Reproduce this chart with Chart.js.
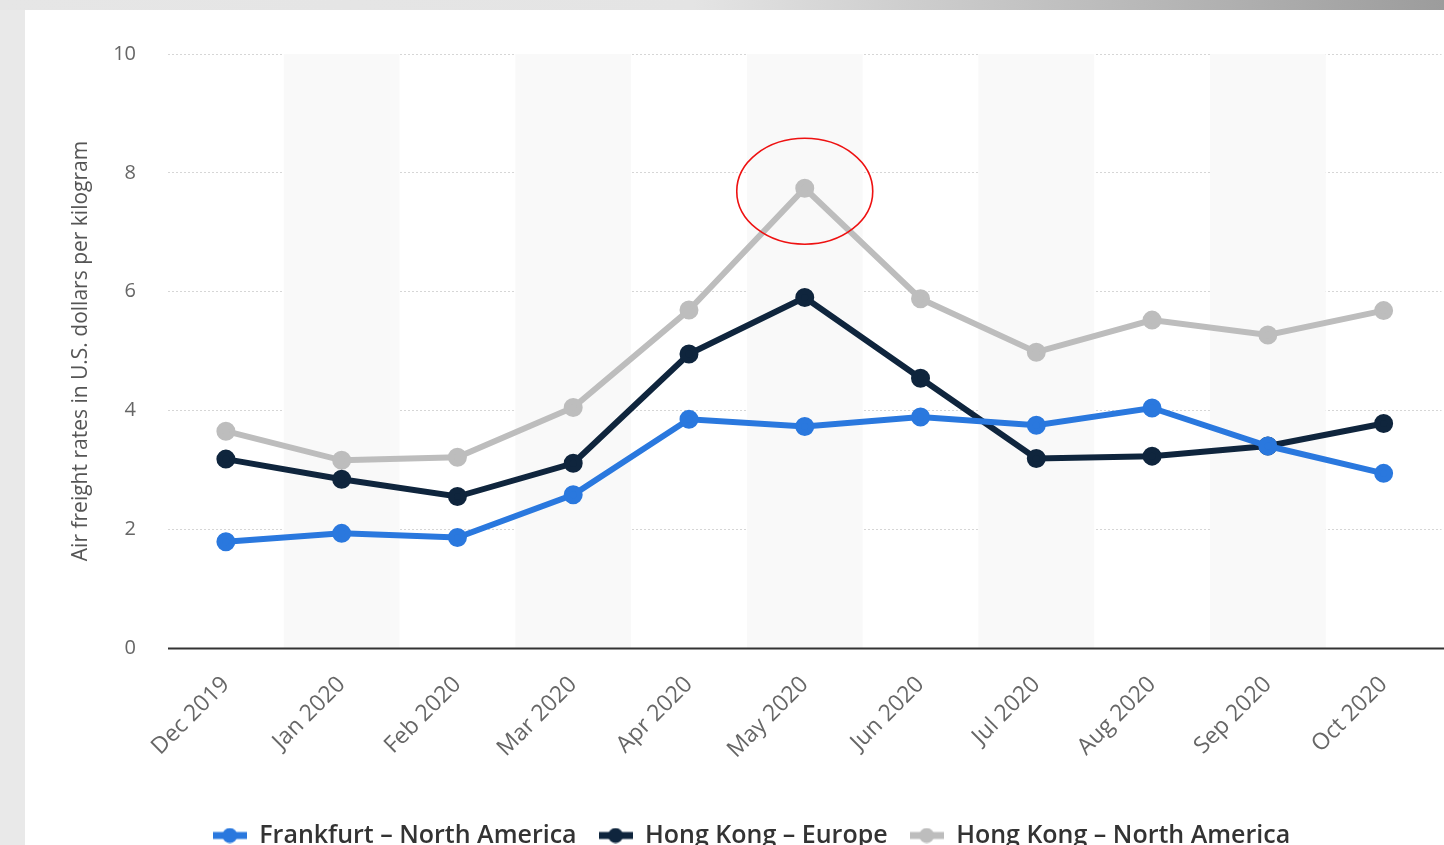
<!DOCTYPE html>
<html lang="en">
<head>
<meta charset="UTF-8">
<title>Air freight rates</title>
<script src="https://cdn.jsdelivr.net/npm/chart.js"></script>
<style>
    html, body { margin: 0; padding: 0; overflow: hidden; }
    body { width: 1444px; height: 845px; background: #e9e9e9; position: relative; }
    .topbar { position: absolute; left: 0; top: 0; width: 1444px; height: 10px;
              background: linear-gradient(to right, #e6e6e6 0%, #e4e4e4 48%, #cfcfcf 62%, #9c9c9c 100%); }
    .panel { position: absolute; left: 25px; top: 10px; width: 1429px; height: 870px; background: #fff; }
    #grafico { display: block; }
</style>
</head>
<body>
<div class="topbar"></div>
<div class="panel">
    <canvas id="grafico" width="1429" height="860" style="width:1429px;height:860px;"></canvas>
</div>
<script>
// months on the x axis
const meses = ['Dec 2019', 'Jan 2020', 'Feb 2020', 'Mar 2020', 'Apr 2020', 'May 2020',
               'Jun 2020', 'Jul 2020', 'Aug 2020', 'Sep 2020', 'Oct 2020'];

// rates, US$ per kg
const frankfurtNA = [1.79, 1.93, 1.86, 2.58, 3.85, 3.73, 3.89, 3.75, 4.04, 3.40, 2.94];
const hongKongEU  = [3.18, 2.84, 2.55, 3.11, 4.95, 5.90, 4.54, 3.19, 3.23, 3.40, 3.78];
const hongKongNA  = [3.65, 3.16, 3.21, 4.05, 5.69, 7.74, 5.88, 4.98, 5.52, 5.27, 5.68];

const yTicks = [0, 2, 4, 6, 8, 10];

// legend marker: short thick line with a dot in the middle
function marcador(cor) {
    const c = document.createElement('canvas');
    c.width = 34; c.height = 16;
    const ctx = c.getContext('2d');
    ctx.fillStyle = cor;
    ctx.fillRect(0, 4.5, 34, 7);
    ctx.beginPath();
    ctx.arc(17, 8, 7.5, 0, Math.PI * 2);
    ctx.fill();
    return c;
}

// grey bands behind every other month
const faixas = {
    id: 'faixas',
    beforeDatasetsDraw(chart) {
        const { ctx, chartArea, scales } = chart;
        const x = scales.x;
        const passo = x.getPixelForValue(1) - x.getPixelForValue(0);
        ctx.save();
        ctx.fillStyle = '#f9f9f9';
        for (let i = 1; i < meses.length; i += 2) {
            const cx = x.getPixelForValue(i);
            ctx.fillRect(cx - passo / 2, chartArea.top, passo, chartArea.bottom - chartArea.top);
        }
        ctx.restore();
    }
};

// red ring around the May peak
const destaque = {
    id: 'destaque',
    afterDatasetsDraw(chart) {
        const pt = chart.getDatasetMeta(2).data[5];
        const ctx = chart.ctx;
        ctx.save();
        ctx.strokeStyle = '#ee1111';
        ctx.lineWidth = 1.6;
        ctx.beginPath();
        ctx.ellipse(pt.x, pt.y + 3, 68, 53, 0, 0, Math.PI * 2);
        ctx.stroke();
        ctx.restore();
    }
};

// solid base line at zero
const linhaZero = {
    id: 'linhaZero',
    afterDatasetsDraw(chart) {
        const { ctx, chartArea, scales } = chart;
        const y = Math.round(scales.y.getPixelForValue(0)) + 0.5;
        ctx.save();
        ctx.strokeStyle = '#333';
        ctx.lineWidth = 2;
        ctx.beginPath();
        ctx.moveTo(chartArea.left, y);
        ctx.lineTo(chartArea.right + 5, y);
        ctx.stroke();
        ctx.restore();
    }
};

function serie(label, dados, cor) {
    return {
        label: label,
        data: dados,
        borderColor: cor,
        backgroundColor: cor,
        pointBackgroundColor: cor,
        pointBorderColor: cor,
        legendStyle: marcador(cor),
        pointStyle: 'circle',
        borderWidth: 6,
        pointRadius: 6.5,
        pointHoverRadius: 6.5,
        tension: 0
    };
}

const datasets = [
    serie('Frankfurt – North America', frankfurtNA, '#2a78de'),
    serie('Hong Kong – Europe', hongKongEU, '#0f253d'),
    serie('Hong Kong – North America', hongKongNA, '#bdbdbd')
];

new Chart(document.getElementById('grafico'), {
    type: 'line',
    data: { labels: meses, datasets: datasets },
    plugins: [faixas, destaque, linhaZero],
    options: {
        responsive: false,
        animation: false,
        events: [],
        layout: { padding: { top: 42, right: 0, bottom: 12, left: 24 } },
        plugins: {
            tooltip: { enabled: false },
            legend: {
                position: 'bottom',
                labels: {
                    usePointStyle: true,
                    pointStyleWidth: 34,
                    padding: 22,
                    color: '#333',
                    font: { family: 'Open Sans', size: 25, weight: '600' },
                    generateLabels(chart) {
                        return chart.data.datasets.map((d, i) => ({
                            text: d.label,
                            fillStyle: d.borderColor,
                            strokeStyle: d.borderColor,
                            lineWidth: 0,
                            pointStyle: d.legendStyle,
                            hidden: false,
                            datasetIndex: i,
                            fontColor: '#333'
                        }));
                    }
                }
            }
        },
        scales: {
            x: {
                offset: true,
                grid: { display: false },
                border: { display: false },
                ticks: {
                    color: '#666',
                    font: { family: 'Open Sans', size: 23 },
                    maxRotation: 45,
                    minRotation: 45,
                    padding: 15
                },
                afterFit(scale) { scale.height = 153; }
            },
            y: {
                min: 0,
                max: 10,
                afterBuildTicks(scale) { scale.ticks = yTicks.map(v => ({ value: v })); },
                grid: {
                    color: '#d6d6d6',
                    lineWidth: 1,
                    drawTicks: false
                },
                border: { display: false, dash: [2, 2] },
                ticks: {
                    color: '#666',
                    font: { family: 'Open Sans', size: 20 },
                    padding: 32
                },
                title: {
                    display: true,
                    text: 'Air freight rates in U.S. dollars per kilogram',
                    color: '#555',
                    font: { family: 'Open Sans', size: 21 },
                    padding: { top: 19, bottom: 0 }
                },
                afterFit(scale) { scale.width = 119; }
            }
        }
    }
});
</script>
</body>
</html>
